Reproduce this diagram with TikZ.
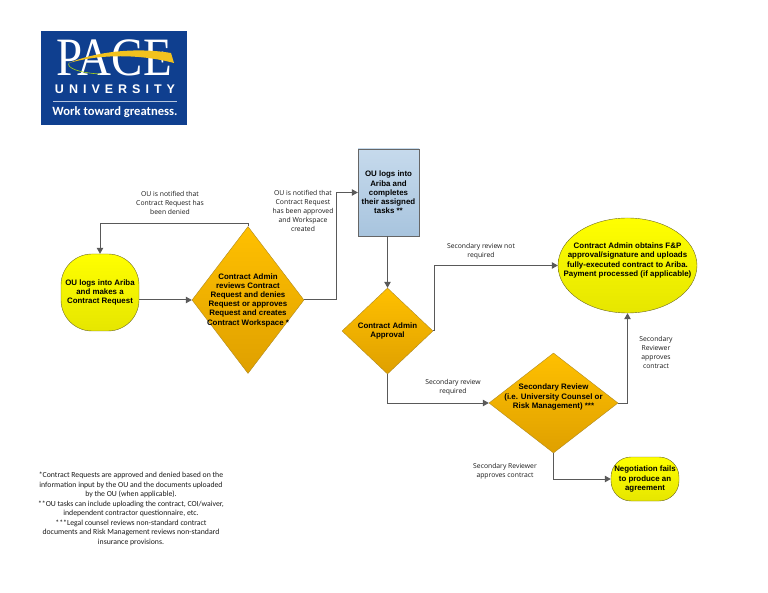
\documentclass[tikz,border=0pt]{standalone}
\usepackage{fontspec}
\usepackage{xcolor}
\setmainfont{Liberation Sans}
\newfontfamily\labelfont{Open Sans}
\newfontfamily\notefont{Carlito}
\newfontfamily\crestfont{Liberation Serif}
\newfontfamily\univfont[LetterSpace=40]{Liberation Sans Bold}
\usetikzlibrary{arrows.meta,shapes.geometric,calc}
\definecolor{paceblue}{HTML}{0F3F8F}
\definecolor{pacegold}{HTML}{F2C21E}
\definecolor{ambertop}{HTML}{FFC000}
\definecolor{amberbot}{HTML}{DFA000}
\definecolor{amberline}{HTML}{B08A20}
\definecolor{yellowbot}{HTML}{E6E600}
\definecolor{skytop}{HTML}{C6DAEC}
\definecolor{skybot}{HTML}{A8C4DE}
\tikzset{
  box/.style={align=center, inner sep=0pt, font=\fontsize{7.9}{9.2}\selectfont\bfseries, text=black},
  sunny/.style={box, draw=olive!70!black, top color=yellow, bottom color=yellowbot},
  amber/.style={draw=amberline, top color=ambertop, bottom color=amberbot},
  dia/.style={diamond, amber, inner sep=0pt, aspect=1},
  note/.style={align=center, inner sep=0pt, text=black!90, font=\labelfont\fontsize{6.8}{9.2}\selectfont},
  flow/.style={-{Triangle[length=6pt,width=6.5pt]}, draw=black!65, line width=1pt},
}
\begin{document}
\begin{tikzpicture}[x=1pt,y=-1pt]
\useasboundingbox (0,0) rectangle (768,593);
% Logo
\node[fill=paceblue, minimum width=146pt, minimum height=94pt, inner sep=0pt] (logo) at (114,78) {};
\node[text=white, inner sep=0pt, text height=36pt, text depth=0pt, font=\crestfont\fontsize{54}{54}\selectfont, xscale=.87, transform shape] (pace) at (114,58) {PACE};
\path[fill=pacegold] (69,63) .. controls (95,52) and (135,47) .. (171,53) -- (174,63) .. controls (140,54) and (100,54) .. (69,63) -- cycle;
\draw[pacegold!70!green, line width=.6pt] (69,63) .. controls (66,68) and (80,73) .. (100,74);
\node[text=white, inner sep=0pt, text height=9pt, text depth=0pt, font=\univfont\fontsize{12.5}{12.5}\selectfont] (univ) at (115,89) {UNIVERSITY};
\draw[white!70!paceblue, line width=.5pt] (53,101) -- (177,101);
\node[text=white, inner sep=0pt, font=\notefont\fontsize{12.6}{12.6}\selectfont\bfseries] (motto) at (115,112) {Work toward greatness.};
% Flow shapes
\node[sunny, rectangle, rounded corners=31pt, minimum width=78pt, minimum height=77pt] (start) at (100,292.5)
  {OU logs into Ariba\\and makes a\\Contract Request};
\node[dia, minimum width=112pt, minimum height=147pt,
  label={[box]center:Contract Admin\\reviews Contract\\Request and denies\\Request or approves\\Request and creates\\Contract Workspace *}] (review) at (248,300) {};
\node[box, rectangle, draw=black!60, top color=skytop, bottom color=skybot,
  minimum width=61pt, minimum height=87pt] (tasks) at (388.5,192.5)
  {OU logs into\\Ariba and\\completes\\their assigned\\tasks **};
\node[dia, minimum width=91pt, minimum height=86pt,
  label={[box]center:Contract Admin\\Approval}] (approval) at (387.5,331) {};
\node[sunny, ellipse, minimum width=139pt, minimum height=95pt,
  label={[box, yshift=5pt]center:Contract Admin obtains F\&P\\approval/signature and uploads\\fully-executed contract to Ariba.\\Payment processed (if applicable)}] (final) at (627.5,265.5) {};
\node[dia, minimum width=129pt, minimum height=100pt,
  label={[box, yshift=6pt]center:Secondary Review\\(i.e. University Counsel or\\Risk Management) ***}] (secondary) at (553.5,403) {};
\node[sunny, rectangle, rounded corners=20pt, minimum width=68pt, minimum height=44pt] (fails) at (645,479)
  {Negotiation fails\\to produce an\\agreement};
% Connector labels
\node[note] (denied) at (170,203) {OU is notified that\\Contract Request has\\been denied};
\node[note] (approved) at (303,211) {OU is notified that\\Contract Request\\has been approved\\and Workspace\\created};
\node[note] (notreq) at (481,251.5) {Secondary review not\\required};
\node[note] (req) at (453,387.5) {Secondary review\\required};
\node[note] (okright) at (656,352.5) {Secondary\\Reviewer\\approves\\contract};
\node[note] (okleft) at (505,471.5) {Secondary Reviewer\\approves contract};
% Footnotes
\node[align=center, inner sep=0pt, text=black!90, font=\notefont\fontsize{7.75}{9.5}\selectfont] (footnotes) at (131,509)
  {*Contract Requests are approved and denied based on the\\
   information input by the OU and the documents uploaded\\
   by the OU (when applicable).\\
   **OU tasks can include uploading the contract, COI/waiver,\\
   independent contractor questionnaire, etc.\\
   ***Legal counsel reviews non-standard contract\\
   documents and Risk Management reviews non-standard\\
   insurance provisions.};
% Connectors
\coordinate (denyturn) at (100,223.5);
\draw[flow] (start.east |- review.west) -- (review.west);
\draw[flow] (review.north) |- (denyturn) -- (start.north);
\draw[flow] (review.east) -- ++(32,0) |- (tasks.west);
\draw[flow] (approval.north |- tasks.south) -- (approval.north);
\draw[flow] (approval.east) -- ++(1,0) |- (final.west);
\draw[flow] (approval.south) |- (secondary.west);
\draw[flow] (secondary.east) -| (final.south);
\draw[flow] (secondary.south) |- (fails.west);
\end{tikzpicture}
\end{document}
